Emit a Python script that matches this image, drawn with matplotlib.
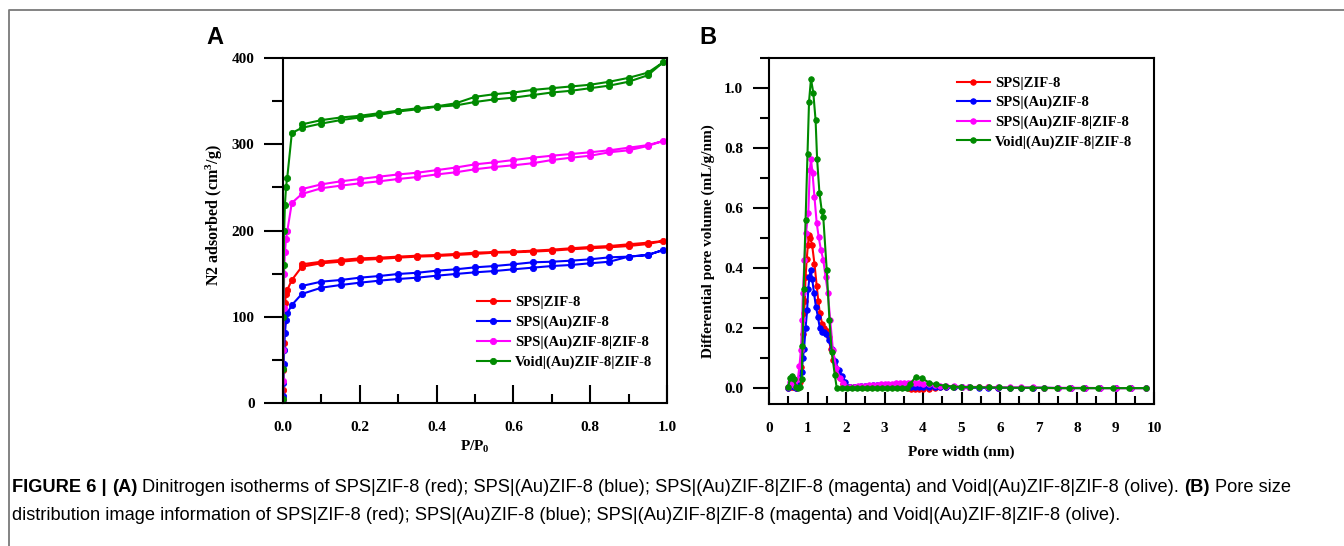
import matplotlib
matplotlib.use("Agg")
import matplotlib.pyplot as plt
from matplotlib.ticker import MultipleLocator
from matplotlib.lines import Line2D

# ---------------- Panel A : N2 isotherms ----------------
p_low = [0.0002, 0.0005, 0.001, 0.002, 0.003, 0.005, 0.008, 0.011, 0.023]
p_mid = [0.049, 0.10, 0.15, 0.20, 0.25, 0.30, 0.35, 0.40, 0.45, 0.50,
         0.55, 0.60, 0.65, 0.70, 0.75, 0.80, 0.85, 0.90, 0.95, 0.99]

red_low = [2, 15, 38, 70, 95, 116, 126, 131, 142.6]
red_ads = [158, 162, 163.8, 165.8, 167, 168.5, 169.7, 170.4, 171.6, 172.8,
           174.3, 174.7, 175.5, 176.6, 178.2, 179.4, 180.5, 182, 184.3, 187.8]
red_des = [160.8, 163.8, 165.8, 167.7, 168.5, 169.7, 170.8, 171.6, 172.8, 174.3,
           175, 175.5, 176.6, 177.8, 179.4, 180.9, 182, 184, 185.9, 187.8]

blue_low = [1, 8, 23, 45, 61, 81, 96, 104, 113.6]
blue_ads = [126.4, 133.7, 136.8, 139.5, 141.8, 143.8, 145.3, 147.6, 149.6, 151.5,
            153, 155, 156.9, 158.8, 160, 162, 163.8, 169.7, 171.6, 177.4]
blue_des = [135.7, 140.7, 142.6, 145.3, 147.2, 149.6, 151, 153.4, 155, 157.3,
            158.8, 160.8, 163.1, 163.8, 165, 166.6, 168.9, 169.7, 171.6, 177.4]

mag_low = [3, 25, 61, 110, 150, 175, 190, 199, 232]
mag_ads = [242.3, 249, 252, 254.7, 257, 259.7, 262, 265, 267.5, 271,
           273.6, 275.6, 278, 281.7, 284.4, 286.7, 290.7, 293, 298, 303.8]
mag_des = [248, 253.5, 257, 259.7, 262.4, 265, 267, 270, 273, 276.7,
           279, 281.7, 284.4, 286.7, 288.7, 290.7, 293, 296, 299, 303.8]

grn_low = [5, 40, 100, 160, 200, 230, 251, 261, 313]
grn_ads = [319, 324, 328, 331, 334, 338, 340.5, 343.5, 345, 349,
           352, 354, 357, 360, 362, 365, 368, 372.5, 380, 395]
grn_des = [323, 328, 331, 333, 336, 339, 341.7, 344, 347.5, 355,
           358, 360, 363, 365, 367, 369, 372.5, 377, 383, 395]

# ---------------- Panel B : pore size distribution ----------------
red_w = [0.50, 0.55, 0.60, 0.65, 0.70, 0.75, 0.80, 0.83, 0.86, 0.88, 0.91, 0.93, 0.95, 0.98,
         1.01, 1.04, 1.07, 1.12, 1.18, 1.24, 1.28, 1.32, 1.38, 1.44,
         1.50, 1.55, 1.60, 1.67, 1.76, 1.84, 1.92, 2.00]
red_v = [0.0, 0.005, 0.005, 0.003, 0.0, 0.003, 0.02, 0.07, 0.13, 0.18, 0.25, 0.29, 0.37, 0.43,
         0.477, 0.51, 0.50, 0.477, 0.415, 0.34, 0.29, 0.25, 0.215, 0.20,
         0.19, 0.17, 0.13, 0.093, 0.055, 0.035, 0.015, 0.003]

blue_w = [0.50, 0.55, 0.60, 0.65, 0.70, 0.75, 0.80, 0.85, 0.88, 0.91, 0.95, 0.99, 1.02, 1.05,
          1.08, 1.12, 1.17, 1.22, 1.27, 1.32, 1.37, 1.43, 1.49, 1.55, 1.63, 1.72, 1.81, 1.90,
          1.98, 2.05]
blue_v = [0.0, 0.01, 0.01, 0.005, 0.0, 0.01, 0.035, 0.055, 0.10, 0.13, 0.20, 0.26, 0.33, 0.37,
          0.393, 0.365, 0.316, 0.27, 0.238, 0.20, 0.188, 0.188, 0.18, 0.16, 0.13, 0.09, 0.06, 0.04,
          0.02, 0.005]

mag_w = [0.50, 0.55, 0.60, 0.65, 0.70, 0.75, 0.79, 0.83, 0.86, 0.88, 0.92, 0.96,
         1.02, 1.06, 1.09, 1.13, 1.18, 1.24, 1.29, 1.35, 1.41, 1.47,
         1.53, 1.59, 1.66, 1.75, 1.84, 1.93, 2.00]
mag_v = [0.005, 0.02, 0.02, 0.01, 0.005, 0.03, 0.073, 0.127, 0.227, 0.316, 0.427, 0.516,
         0.582, 0.727, 0.763, 0.717, 0.638, 0.549, 0.504, 0.46, 0.427, 0.37,
         0.316, 0.227, 0.127, 0.066, 0.033, 0.017, 0.005]

tail_w = [2.1, 2.2, 2.3, 2.4, 2.5, 2.6, 2.7, 2.8, 2.9, 3.0, 3.1, 3.2, 3.3, 3.4, 3.5, 3.6, 3.7,
          3.8, 3.9, 4.0, 4.15, 4.3, 4.45, 4.6, 4.8, 5.0, 5.2, 5.45, 5.7, 5.95, 6.25, 6.55,
          6.85, 7.15, 7.5, 7.85, 8.2, 8.6, 9.0, 9.4, 9.8]
red_tail = [0.002, 0.002, 0.003, 0.003, 0.004, 0.004, 0.005, 0.005, 0.005, 0.006,
            0.006, 0.005, 0.005, 0.004, 0.002, 0.0, -0.003, -0.004, -0.004, -0.003,
            -0.002, 0.0, 0.002, 0.003, 0.003, 0.003, 0.002, 0.002, 0.002, 0.001,
            0.001, 0.001, 0.001, 0.0, 0.0, 0.0, 0.0, 0.0, 0.0, 0.0, 0.0]
blue_tail = [0.003, 0.004, 0.005, 0.006, 0.007, 0.008, 0.009, 0.009, 0.009, 0.008,
             0.008, 0.007, 0.007, 0.006, 0.005, 0.005, 0.004, 0.004, 0.004, 0.003,
             0.003, 0.003, 0.003, 0.002, 0.002, 0.002, 0.002, 0.001, 0.001, 0.001,
             0.001, 0.001, 0.001, 0.001, 0.0, 0.0, 0.0, 0.0, 0.0, 0.0, 0.0]
mag_tail = [0.004, 0.005, 0.006, 0.007, 0.008, 0.009, 0.010, 0.011, 0.012, 0.013,
            0.014, 0.015, 0.016, 0.016, 0.017, 0.017, 0.018, 0.018, 0.017, 0.015,
            0.012, 0.010, 0.008, 0.007, 0.006, 0.005, 0.004, 0.004, 0.003, 0.003,
            0.002, 0.002, 0.002, 0.001, 0.001, 0.001, 0.001, 0.0, 0.0, 0.0, 0.0]

grn_w = [0.50, 0.55, 0.60, 0.65, 0.70, 0.75, 0.80, 0.85,
         0.87, 0.90, 0.95, 1.00, 1.04, 1.09, 1.15, 1.21, 1.25, 1.31, 1.37, 1.41, 1.50, 1.57,
         1.63, 1.71, 1.76,
         1.89, 2.02, 2.15, 2.28, 2.41, 2.54, 2.67, 2.80, 2.93, 3.06, 3.19, 3.32, 3.45, 3.58,
         3.66, 3.81, 3.98, 4.16, 4.35, 4.57, 4.79, 4.98, 5.22, 5.46, 5.71, 5.97, 6.26, 6.54,
         6.82, 7.14, 7.47, 7.80, 8.16, 8.55, 8.94, 9.35, 9.78]
grn_v = [0.005, 0.035, 0.04, 0.03, 0.005, 0.0, 0.005, 0.03,
         0.14, 0.33, 0.56, 0.78, 0.955, 1.03, 0.985, 0.893, 0.762, 0.651, 0.591, 0.569, 0.393, 0.227,
         0.121, 0.043, 0.0,
         0, 0, 0, 0, 0, 0, 0, 0, 0, 0, 0, 0, 0, 0,
         0.012, 0.038, 0.032, 0.018, 0.012, 0.008, 0.005, 0.004, 0.003, 0.003, 0.002, 0.002,
         0.001, 0.001, 0.001, 0.001, 0, 0, 0, 0, 0, 0, 0]

labels = ["SPS|ZIF-8", "SPS|(Au)ZIF-8", "SPS|(Au)ZIF-8|ZIF-8", "Void|(Au)ZIF-8|ZIF-8"]
colors = ["#ff0000", "#0000ff", "#ff00ff", "#008a00"]

caption1 = [("FIGURE 6 |", "bold"), ("(A)", "bold"),
            ("Dinitrogen isotherms of SPS|ZIF-8 (red); SPS|(Au)ZIF-8 (blue); "
             "SPS|(Au)ZIF-8|ZIF-8 (magenta) and Void|(Au)ZIF-8|ZIF-8 (olive).", "normal"),
            ("(B)", "bold"), ("Pore size", "normal")]
caption2 = [("distribution image information of SPS|ZIF-8 (red); SPS|(Au)ZIF-8 (blue); "
             "SPS|(Au)ZIF-8|ZIF-8 (magenta) and Void|(Au)ZIF-8|ZIF-8 (olive).", "normal")]

# ---------------- style ----------------
plt.rcParams["font.family"] = ["Liberation Serif", "DejaVu Serif"]
plt.rcParams["font.weight"] = "bold"
plt.rcParams["axes.labelweight"] = "bold"
plt.rcParams["mathtext.fontset"] = "custom"
plt.rcParams["mathtext.rm"] = "Liberation Serif:bold"
plt.rcParams["mathtext.it"] = "Liberation Serif:bold"
plt.rcParams["mathtext.bf"] = "Liberation Serif:bold"
plt.rcParams["mathtext.default"] = "rm"

W, H = 1344, 546
fig = plt.figure(figsize=(W / 100, H / 100), dpi=100)


def fx(px):
    return px / W


def fy(py):
    return 1 - py / H


axA = fig.add_axes([fx(283), fy(403), fx(667) - fx(283), fy(58) - fy(403)])
axB = fig.add_axes([fx(769), fy(404), fx(1154) - fx(769), fy(58) - fy(404)])

lw = 1.5
# Panel A
iso = [(red_low, red_ads, red_des), (blue_low, blue_ads, blue_des),
       (mag_low, mag_ads, mag_des), (grn_low, grn_ads, grn_des)]
for (lo, ad, de), c, lab in zip(iso, colors, labels):
    xs = p_low + p_mid + p_mid[-2::-1]
    ys = lo + ad + de[-2::-1]
    axA.plot(xs, ys, "-o", color=c, lw=lw, ms=4.5, mfc=c, mec=c, mew=0.6, label=lab)

axA.set_xlim(0, 1.0)
axA.set_ylim(0, 400)
axA.xaxis.set_major_locator(MultipleLocator(0.2))
axA.xaxis.set_minor_locator(MultipleLocator(0.1))
axA.yaxis.set_major_locator(MultipleLocator(100))
axA.yaxis.set_minor_locator(MultipleLocator(50))
axA.xaxis.set_major_formatter(plt.FormatStrFormatter("%.1f"))
axA.tick_params(axis="x", which="major", direction="in", length=13, width=1.5, pad=13, labelsize=11)
axA.tick_params(axis="x", which="minor", direction="in", length=6.5, width=1.5)
axA.tick_params(axis="y", which="major", direction="out", length=13.5, width=1.5, pad=7, labelsize=11)
axA.tick_params(axis="y", which="minor", direction="out", length=8, width=1.5)
axA.set_ylabel("N2 adsorbed (cm$^{3}$/g)", fontsize=11.5, va="center")
axA.yaxis.set_label_coords(-0.178, 0.545)
axA.set_xlabel("P/P$_{0}$", fontsize=11, va="center")
axA.xaxis.set_label_coords(0.5, -0.1275)
axA.legend(loc="center left", bbox_to_anchor=(0.505, 0.204), frameon=False, fontsize=10.5,
           handlelength=2.25, handletextpad=0.35, labelspacing=0.45, borderpad=0,
           borderaxespad=0, numpoints=1)

# Panel B
psd = [(red_w + tail_w, red_v + red_tail), (blue_w + tail_w, blue_v + blue_tail),
       (mag_w + tail_w, mag_v + mag_tail), (grn_w, grn_v)]
for (xs, ys), c, lab in zip(psd, colors, labels):
    axB.plot(xs, ys, "-o", color=c, lw=lw, ms=4.0, mfc=c, mec=c, mew=0.6, label=lab)

axB.set_xlim(0, 10)
axB.set_ylim(-0.053, 1.1)
axB.xaxis.set_major_locator(MultipleLocator(1))
axB.xaxis.set_minor_locator(MultipleLocator(0.5))
axB.yaxis.set_major_locator(MultipleLocator(0.2))
axB.yaxis.set_minor_locator(MultipleLocator(0.1))
axB.yaxis.set_major_formatter(plt.FormatStrFormatter("%.1f"))
axB.tick_params(axis="x", which="major", direction="in", length=8.6, width=1.5, pad=13, labelsize=11)
axB.tick_params(axis="x", which="minor", direction="in", length=5.8, width=1.5)
axB.tick_params(axis="y", which="major", direction="out", length=11.5, width=1.5, pad=7, labelsize=11)
axB.tick_params(axis="y", which="minor", direction="out", length=6.5, width=1.5)
axB.set_ylabel("Differential pore volume (mL/g/nm)", fontsize=11, va="center")
axB.yaxis.set_label_coords((708 - 769) / 385, 0.471)
axB.set_xlabel("Pore width (nm)", fontsize=11, va="center")
axB.xaxis.set_label_coords(0.5, -0.139)
axB.legend(loc="center left", bbox_to_anchor=(0.488, 0.8425), frameon=False, fontsize=10.5,
           handlelength=2.25, handletextpad=0.35, labelspacing=0.42, borderpad=0,
           borderaxespad=0, numpoints=1)

for ax in (axA, axB):
    for s in ax.spines.values():
        s.set_linewidth(1.5)

# panel letters
fig.text(fx(206), fy(37), "A", family=["Liberation Sans", "DejaVu Sans"], fontweight="bold",
         fontsize=17, ha="left", va="center")
fig.text(fx(699), fy(37), "B", family=["Liberation Sans", "DejaVu Sans"], fontweight="bold",
         fontsize=17, ha="left", va="center")

# figure frame (top and left lines)
fig.add_artist(Line2D([fx(9), fx(9), 1.0], [0.0, fy(10), fy(10)], color="#7a7a7a", lw=1.3,
                      transform=fig.transFigure))

# caption
cap_family = ["Liberation Sans", "DejaVu Sans"]
renderer = fig.canvas.get_renderer()


def draw_line(pieces, x0, ypx, size):
    t0 = fig.text(0, 0, "aa", fontsize=size, family=cap_family, fontweight="normal")
    t1 = fig.text(0, 0, "a a", fontsize=size, family=cap_family, fontweight="normal")
    sp = t1.get_window_extent(renderer).width - t0.get_window_extent(renderer).width
    t0.remove()
    t1.remove()
    x = x0
    arts = []
    for s, w in pieces:
        t = fig.text(fx(x), fy(ypx), s, fontsize=size, family=cap_family, fontweight=w,
                     ha="left", va="center")
        arts.append(t)
        x = t.get_window_extent(renderer).x1 + sp
    return arts, x - sp


base = 13
arts, xend = draw_line(caption1, 12, 487, base)
scale = (1290 - 12) / (xend - 12)
for a in arts:
    a.remove()
size = base * scale
draw_line(caption1, 12, 487, size)
draw_line(caption2, 12, 515, size)

fig.savefig("out.png", dpi=100)
